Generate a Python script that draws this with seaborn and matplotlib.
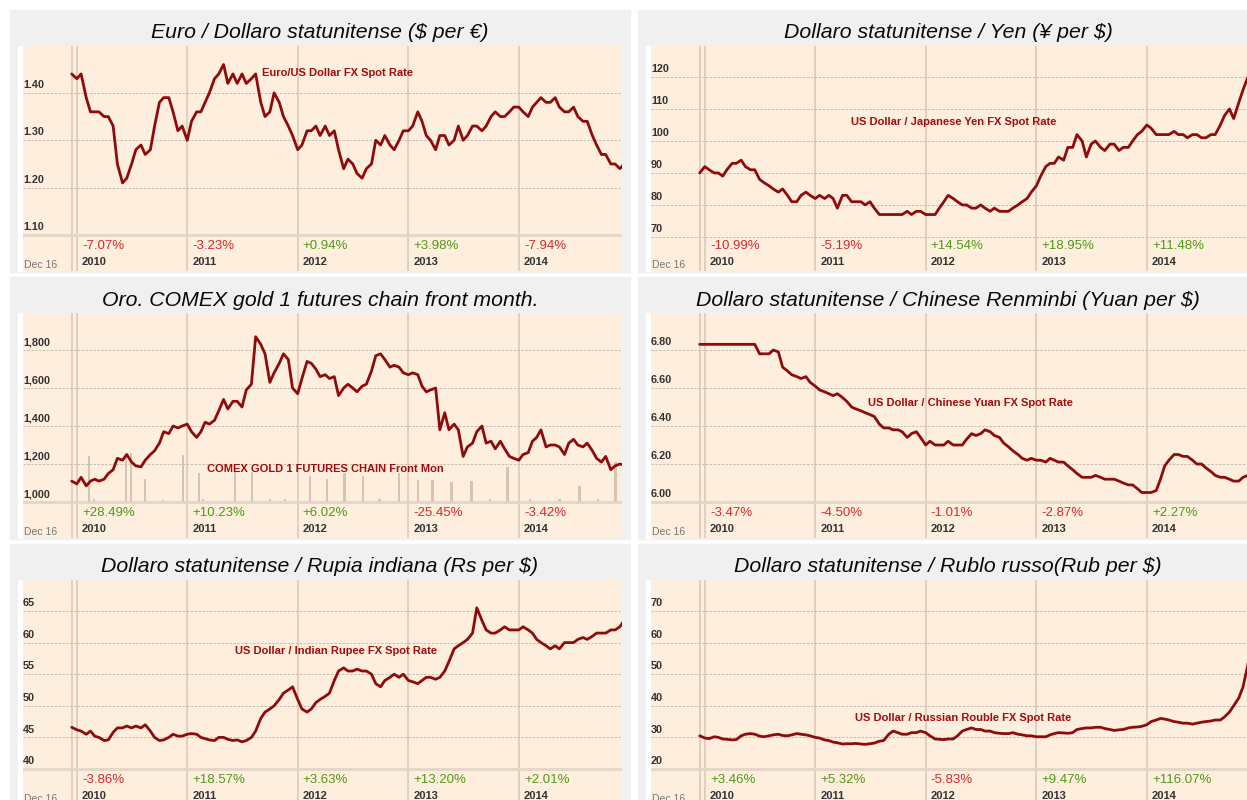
import numpy as np
import pandas as pd
import matplotlib
matplotlib.use("Agg")
import matplotlib.pyplot as plt
import matplotlib.transforms as mtransforms
from matplotlib.patches import Rectangle
import seaborn as sns

# semi-monthly sampling, Dec 15 2009 -> Dec 15 2014 (121 points)
dates = pd.date_range('2009-12-15', '2014-12-15', freq='SMS')

eur_usd = [1.44,
    1.43, 1.44, 1.39, 1.36, 1.36, 1.36, 1.35, 1.35, 1.33, 1.25, 1.21, 1.22,
    1.25, 1.28, 1.29, 1.27, 1.28, 1.33, 1.38, 1.39, 1.39, 1.36, 1.32, 1.33,
    1.30, 1.34, 1.36, 1.36, 1.38, 1.40, 1.43, 1.44, 1.46, 1.42, 1.44, 1.42,
    1.44, 1.42, 1.43, 1.44, 1.38, 1.35, 1.36, 1.40, 1.38, 1.35, 1.33, 1.31,
    1.28, 1.29, 1.32, 1.32, 1.33, 1.31, 1.33, 1.31, 1.32, 1.28, 1.24, 1.26,
    1.25, 1.23, 1.22, 1.24, 1.25, 1.30, 1.29, 1.31, 1.29, 1.28, 1.30, 1.32,
    1.32, 1.33, 1.36, 1.34, 1.31, 1.30, 1.28, 1.31, 1.31, 1.29, 1.30, 1.33,
    1.30, 1.31, 1.33, 1.33, 1.32, 1.33, 1.35, 1.36, 1.35, 1.35, 1.36, 1.37,
    1.37, 1.36, 1.35, 1.37, 1.38, 1.39, 1.38, 1.38, 1.39, 1.37, 1.36, 1.36,
    1.37, 1.35, 1.34, 1.34, 1.31, 1.29, 1.27, 1.27, 1.25, 1.25, 1.24, 1.25]

usd_jpy = [90,
    92, 91, 90, 90, 89, 91, 93, 93, 94, 92, 91, 91,
    88, 87, 86, 85, 84, 85, 83, 81, 81, 83, 84, 83,
    82, 83, 82, 83, 82, 79, 83, 83, 81, 81, 81, 80,
    81, 79, 77, 77, 77, 77, 77, 77, 78, 77, 78, 78,
    77, 77, 77, 79, 81, 83, 82, 81, 80, 80, 79, 79,
    80, 79, 78, 79, 78, 78, 78, 79, 80, 81, 82, 84,
    86, 89, 92, 93, 93, 95, 94, 98, 98, 102, 100, 95,
    99, 100, 98, 97, 99, 99, 97, 98, 98, 100, 102, 103,
    105, 104, 102, 102, 102, 102, 103, 102, 102, 101, 102, 102,
    101, 101, 102, 102, 105, 108, 110, 107, 112, 116, 120, 118]

gold = [1110,
    1095, 1130, 1085, 1110, 1120, 1110, 1120, 1150, 1170, 1230, 1220, 1250,
    1210, 1190, 1185, 1220, 1250, 1270, 1310, 1370, 1360, 1400, 1390, 1400,
    1410, 1370, 1340, 1370, 1420, 1410, 1430, 1480, 1540, 1490, 1530, 1530,
    1500, 1590, 1620, 1870, 1830, 1780, 1630, 1680, 1730, 1780, 1750, 1600,
    1570, 1650, 1740, 1730, 1700, 1660, 1670, 1650, 1660, 1560, 1600, 1620,
    1600, 1580, 1610, 1620, 1690, 1770, 1780, 1750, 1710, 1720, 1710, 1680,
    1670, 1680, 1670, 1610, 1580, 1590, 1600, 1380, 1470, 1380, 1410, 1380,
    1240, 1290, 1310, 1370, 1400, 1310, 1320, 1280, 1320, 1280, 1240, 1230,
    1220, 1250, 1260, 1320, 1340, 1380, 1290, 1300, 1300, 1290, 1250, 1310,
    1330, 1300, 1290, 1310, 1270, 1230, 1210, 1240, 1170, 1190, 1200, 1195]

usd_cny = [6.83,
    6.83, 6.83, 6.83, 6.83, 6.83, 6.83, 6.83, 6.83, 6.83, 6.83, 6.83, 6.83,
    6.78, 6.78, 6.78, 6.80, 6.79, 6.71, 6.69, 6.67, 6.66, 6.65, 6.66, 6.63,
    6.61, 6.59, 6.58, 6.57, 6.56, 6.57, 6.55, 6.53, 6.50, 6.49, 6.48, 6.47,
    6.46, 6.45, 6.41, 6.39, 6.39, 6.38, 6.38, 6.37, 6.34, 6.36, 6.37, 6.34,
    6.30, 6.32, 6.30, 6.30, 6.30, 6.32, 6.30, 6.30, 6.30, 6.33, 6.36, 6.35,
    6.36, 6.38, 6.37, 6.35, 6.34, 6.31, 6.29, 6.27, 6.25, 6.23, 6.22, 6.23,
    6.22, 6.22, 6.21, 6.23, 6.22, 6.21, 6.21, 6.19, 6.17, 6.15, 6.13, 6.13,
    6.13, 6.14, 6.13, 6.12, 6.12, 6.12, 6.11, 6.10, 6.09, 6.09, 6.07, 6.05,
    6.05, 6.05, 6.06, 6.12, 6.19, 6.22, 6.25, 6.25, 6.24, 6.24, 6.22, 6.20,
    6.20, 6.18, 6.16, 6.14, 6.13, 6.13, 6.12, 6.11, 6.11, 6.13, 6.14, 6.19]

usd_inr = [46.6,
    46.2, 46.0, 45.5, 46.0, 45.2, 45.0, 44.5, 44.6, 45.8, 46.5, 46.5, 46.8,
    46.5, 46.8, 46.5, 47.0, 46.0, 45.0, 44.5, 44.6, 45.0, 45.5, 45.2, 45.2,
    45.5, 45.6, 45.5, 45.0, 44.8, 44.6, 44.5, 45.0, 45.0, 44.7, 44.5, 44.6,
    44.3, 44.5, 45.0, 46.0, 48.0, 49.0, 49.5, 50.0, 51.0, 52.0, 52.5, 53.0,
    51.0, 49.5, 49.0, 49.5, 50.5, 51.0, 51.5, 52.0, 54.0, 55.5, 56.0, 55.5,
    55.5, 55.8, 55.5, 55.5, 55.0, 53.5, 53.0, 54.0, 54.5, 55.0, 54.5, 55.0,
    54.0, 53.8, 53.5, 54.0, 54.5, 54.5, 54.2, 54.5, 55.5, 57.0, 59.0, 59.5,
    60.0, 60.5, 61.5, 65.5, 63.5, 62.0, 61.5, 61.5, 62.0, 62.5, 62.0, 62.0,
    62.0, 62.5, 62.0, 61.5, 60.5, 60.0, 59.5, 59.0, 59.5, 59.0, 60.0, 60.0,
    60.0, 60.5, 60.8, 60.5, 61.0, 61.5, 61.5, 61.5, 62.0, 62.0, 62.5, 63.5]

usd_rub = [30.5,
    29.8, 29.6, 30.2, 30.0, 29.5, 29.4, 29.2, 29.3, 30.5, 31.0, 31.2, 31.0,
    30.4, 30.2, 30.5, 30.8, 31.0, 30.6, 30.5, 30.8, 31.2, 31.0, 30.8, 30.5,
    30.0, 29.8, 29.2, 29.0, 28.5, 28.3, 27.9, 28.0, 28.0, 28.1, 27.9, 27.8,
    28.0, 28.2, 28.8, 29.0, 31.0, 32.0, 31.5, 31.0, 31.0, 31.5, 31.5, 32.0,
    31.5, 30.5, 29.5, 29.4, 29.3, 29.5, 29.5, 30.5, 32.0, 32.5, 33.0, 32.5,
    32.5, 32.0, 32.0, 31.5, 31.3, 31.2, 31.2, 31.5, 31.0, 30.8, 30.5, 30.5,
    30.2, 30.2, 30.2, 30.8, 31.2, 31.5, 31.4, 31.3, 31.5, 32.5, 32.8, 33.0,
    33.0, 33.2, 33.2, 32.8, 32.5, 32.2, 32.4, 32.5, 33.0, 33.2, 33.3, 33.5,
    34.0, 35.0, 35.5, 36.0, 35.8, 35.5, 35.0, 34.8, 34.5, 34.5, 34.2, 34.5,
    34.8, 35.0, 35.2, 35.5, 35.5, 36.5, 38.0, 40.0, 42.5, 46.0, 53.0, 70.0]

# gold front-month volume (approx, thousand contracts)
gold_vol_dates = ['2010-02-10', '2010-02-27', '2010-06-12', '2010-06-29', '2010-08-14',
                  '2010-10-13', '2010-12-18', '2011-02-09', '2011-02-22', '2011-06-08',
                  '2011-08-03', '2011-10-01', '2011-11-20', '2012-02-10', '2012-04-06',
                  '2012-06-04', '2012-08-03', '2012-09-28', '2012-11-30', '2013-02-01',
                  '2013-03-22', '2013-05-24', '2013-07-29', '2013-09-27', '2013-11-25',
                  '2014-02-06', '2014-05-16', '2014-07-21', '2014-09-19', '2014-11-17']
gold_vol = [97, 6, 104, 104, 49, 5, 99, 61, 6, 63,
            63, 6, 6, 55, 49, 61, 55, 6, 61, 47,
            47, 42, 44, 6, 74, 6, 6, 34, 6, 85]

years = [2010, 2011, 2012, 2013, 2014]

panels = [
    dict(title='Euro / Dollaro statunitense ($ per \u20ac)', values=eur_usd,
         label='Euro/US Dollar FX Spot Rate', label_pos=(0.399, 0.88),
         ylim=(1.10, 1.499), ticks=[1.10, 1.20, 1.30, 1.40], fmt='{:.2f}',
         pct=['-7.07%', '-3.23%', '+0.94%', '+3.98%', '-7.94%']),
    dict(title='Dollaro statunitense / Yen (\u00a5 per $)', values=usd_jpy,
         label='US Dollar / Japanese Yen FX Spot Rate', label_pos=(0.334, 0.662),
         ylim=(70.6, 129.7), ticks=[70, 80, 90, 100, 110, 120], fmt='{:.0f}',
         pct=['-10.99%', '-5.19%', '+14.54%', '+18.95%', '+11.48%']),
    dict(title='Oro. COMEX gold 1 futures chain front month.', values=gold,
         label='COMEX GOLD 1 FUTURES CHAIN Front Mon', label_pos=(0.307, 0.307),
         ylim=(1000, 1995), ticks=[1000, 1200, 1400, 1600, 1800], fmt='{:,.0f}',
         pct=['+28.49%', '+10.23%', '+6.02%', '-25.45%', '-3.42%']),
    dict(title='Dollaro statunitense / Chinese Renminbi (Yuan per $)', values=usd_cny,
         label='US Dollar / Chinese Yuan FX Spot Rate', label_pos=(0.362, 0.60),
         ylim=(6.0, 6.995), ticks=[6.00, 6.20, 6.40, 6.60, 6.80], fmt='{:.2f}',
         pct=['-3.47%', '-4.50%', '-1.01%', '-2.87%', '+2.27%']),
    dict(title='Dollaro statunitense / Rupia indiana (Rs per $)', values=usd_inr,
         label='US Dollar / Indian Rupee FX Spot Rate', label_pos=(0.354, 0.684),
         ylim=(40, 69.9), ticks=[40, 45, 50, 55, 60, 65], fmt='{:.0f}',
         pct=['-3.86%', '+18.57%', '+3.63%', '+13.20%', '+2.01%']),
    dict(title='Dollaro statunitense / Rublo russo(Rub per $)', values=usd_rub,
         label='US Dollar / Russian Rouble FX Spot Rate', label_pos=(0.341, 0.387),
         ylim=(20, 79.8), ticks=[20, 30, 40, 50, 60, 70], fmt='{:.0f}',
         pct=['+3.46%', '+5.32%', '-5.83%', '+9.47%', '+116.07%']),
]

sns.set_theme(style='white')
plt.rcParams['font.family'] = ['Liberation Sans', 'DejaVu Sans']

W, H = 1247, 800
fig = plt.figure(figsize=(W / 100, H / 100), dpi=100)
fig.patch.set_facecolor('white')

GRAY = '#f0f0f0'
BEIGE = '#fdeede'
LINE = '#8e0b0b'
VLINE = '#dccdbd'
GRID = '#c9bdb0'
RED = '#d42a2a'
GREEN = '#4f9a19'
LABEL_RED = '#a00c0c'

col_x = [10, 638]          # gray panel left edges (px)
row_y = [10, 277, 544]     # gray panel top edges (px)
panel_w, panel_h = 620, 262
title_h = 36
chart_h, band_h = 189, 36

x_left = pd.Timestamp('2009-12-16') - pd.Timedelta(days=162)
x_right = pd.Timestamp('2014-12-08')


def fx(px):
    return px / W


def fy(py):
    return 1 - py / H


for i, p in enumerate(panels):
    r, c = divmod(i, 2)
    gx, gy = col_x[c], row_y[r]
    fig.patches.append(Rectangle((fx(gx), fy(gy + panel_h)), panel_w / W, panel_h / H,
                                 transform=fig.transFigure, color=GRAY, zorder=-2))
    fig.text(fx(gx + panel_w / 2), fy(gy + title_h / 2 + 5), p['title'],
             ha='center', va='center', fontsize=15.3, style='italic', color='#0a0a0a')
    # white strip left of the plot area
    fig.patches.append(Rectangle((fx(gx + 8), fy(gy + title_h + chart_h + band_h)), 5 / W,
                                 (chart_h + band_h) / H, transform=fig.transFigure,
                                 color='white', zorder=-1))

    ax_left, ax_top = gx + 13, gy + title_h
    ax = fig.add_axes([fx(ax_left), fy(ax_top + chart_h + band_h), 599 / W,
                       (chart_h + band_h) / H])
    ax.set_zorder(3)
    ax.set_facecolor(BEIGE)
    for s in ax.spines.values():
        s.set_visible(False)

    lo, hi = p['ylim']
    span = hi - lo
    ybot = lo - span * band_h / chart_h

    if i == 2:
        # volume bars behind the price line
        vax = fig.add_axes(ax.get_position())
        vax.set_zorder(2)
        vax.set_facecolor(BEIGE)
        vax.set_ylim(-400 * band_h / chart_h, 400)
        vax.set_xlim(x_left, x_right)
        vax.bar(pd.to_datetime(gold_vol_dates), gold_vol, width=8, color='#d3c4b3',
                linewidth=0)
        vax.set_xticks([])
        vax.set_yticks([])
        for s in vax.spines.values():
            s.set_visible(False)
        ax.patch.set_visible(False)

    # year separators
    ax.axvline(pd.Timestamp('2009-12-16'), color=VLINE, lw=1.3, zorder=1)
    for yr in years:
        ax.axvline(pd.Timestamp(f'{yr}-01-01'), color=VLINE, lw=1.3, zorder=1)
    # horizontal grid / band separator
    blend = mtransforms.blended_transform_factory(ax.transAxes, ax.transData)
    for t in p['ticks']:
        if t == lo:
            ax.axhline(t, color='#e4d6c6', lw=2, zorder=1)
        else:
            ax.axhline(t, color=GRID, lw=0.7, ls=(0, (2.5, 1.5)), zorder=1)
        ax.annotate(p['fmt'].format(t), xy=(0, t), xycoords=blend, xytext=(0, 2),
                    textcoords='offset points', ha='left', va='bottom',
                    fontsize=7.8, fontweight='bold', color='#333333', zorder=3)

    df = pd.DataFrame({'date': dates, 'value': p['values']})
    sns.lineplot(data=df, x='date', y='value', ax=ax, color=LINE, lw=2.0, zorder=4)
    ax.set_xlabel('')
    ax.set_ylabel('')
    ax.set_xticks([])
    ax.set_yticks([])
    ax.set_ylim(ybot, hi)
    ax.set_xlim(x_left, x_right)

    ax.text(p['label_pos'][0], p['label_pos'][1], p['label'], transform=ax.transAxes,
            ha='left', va='center', fontsize=8, fontweight='bold', color=LABEL_RED,
            zorder=5)

    # bottom band: yearly change and year labels
    bx = mtransforms.blended_transform_factory(ax.transData, ax.transAxes)
    for yr, pc in zip(years, p['pct']):
        xpos = pd.Timestamp(f'{yr}-01-18')
        ax.text(xpos, 0.112, pc, transform=bx, ha='left', va='center', fontsize=9.5,
                color=RED if pc.startswith('-') else GREEN)
        ax.text(xpos, 0.038, str(yr), transform=bx, ha='left', va='center',
                fontsize=8, fontweight='bold', color='#333333')
    ax.text(0.002, 0.026, 'Dec 16', transform=ax.transAxes, ha='left', va='center',
            fontsize=7.5, color='#777777')

fig.savefig('out.png', dpi=100, facecolor='white')
